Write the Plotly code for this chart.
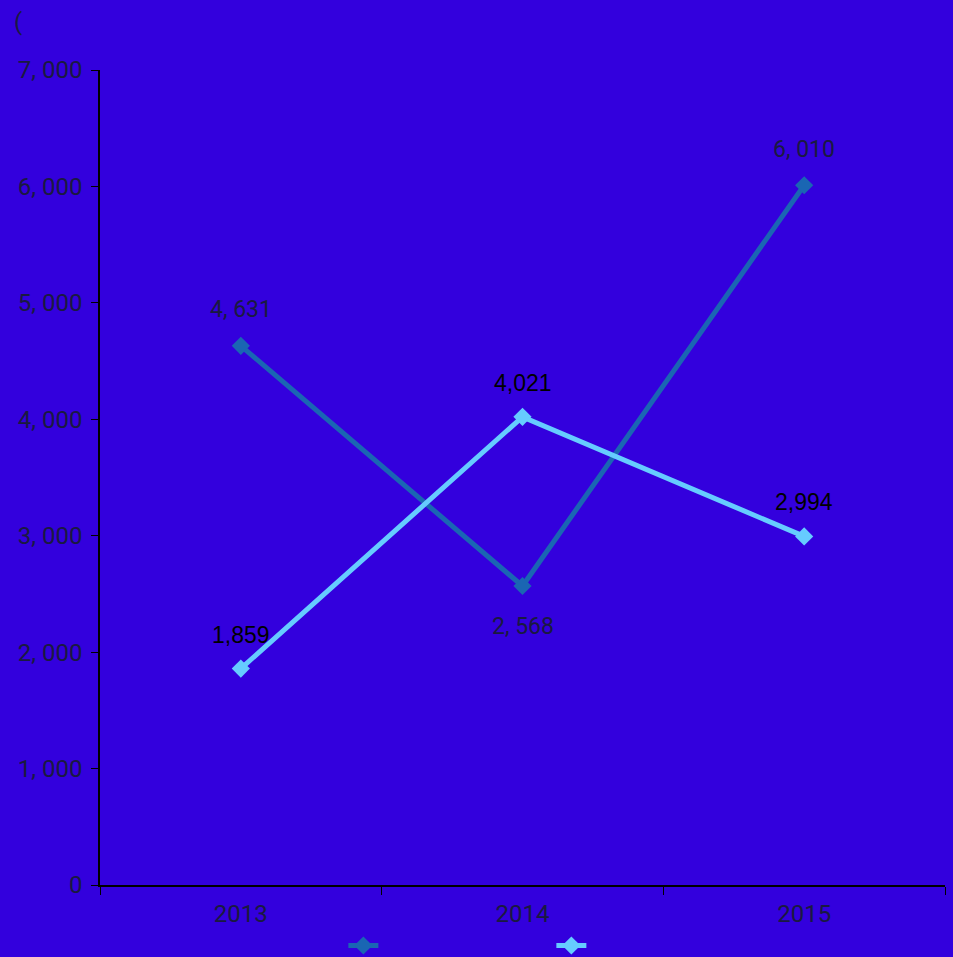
import plotly.graph_objects as go

years = ["2013", "2014", "2015"]
series_a = [4631, 2568, 6010]
series_b = [1859, 4021, 2994]
labels_a = ["4, 631", "2, 568", "6, 010"]
labels_b = ["1,859", "4,021", "2,994"]
y_ticks = [0, 1000, 2000, 3000, 4000, 5000, 6000, 7000]
y_tick_text = ["0", "1, 000", "2, 000", "3, 000", "4, 000", "5, 000", "6, 000", "7, 000"]

bg = "#3300dd"
dark = "#1a1a40"
narrow = "Liberation Sans Narrow, Roboto, sans-serif"

fig = go.Figure()
fig.add_trace(go.Scatter(
    x=years, y=series_a, mode="lines+markers", name="",
    line=dict(color="#1a66b3", width=5),
    marker=dict(symbol="diamond", size=14, color="#1a66b3"),
))
fig.add_trace(go.Scatter(
    x=years, y=series_b, mode="lines+markers", name="",
    line=dict(color="#66ccff", width=5),
    marker=dict(symbol="diamond", size=14, color="#66ccff"),
))

# data labels (category index used as x position)
shifts_a = [36, -40, 36]
for i, (y, t, s) in enumerate(zip(series_a, labels_a, shifts_a)):
    fig.add_annotation(x=i, y=y, text=t, showarrow=False, yshift=s,
                       font=dict(family=narrow, size=23, color=dark))
for i, (y, t) in enumerate(zip(series_b, labels_b)):
    fig.add_annotation(x=i, y=y, text=t, showarrow=False, yshift=34,
                       font=dict(family="Liberation Sans, Arial, sans-serif", size=23, color="black"))

fig.add_annotation(x=0, y=1, xref="paper", yref="paper", xanchor="left", yanchor="top",
                   xshift=-88, yshift=64, text="(", showarrow=False,
                   font=dict(family=narrow, size=24, color=dark))

fig.update_layout(
    width=953, height=957,
    paper_bgcolor=bg, plot_bgcolor=bg,
    margin=dict(l=100, r=8, t=70, b=72, autoexpand=False),
    showlegend=True,
    legend=dict(orientation="h", x=0.288, xanchor="left", yref="container", y=0.012,
                yanchor="middle", entrywidth=163, entrywidthmode="pixels",
                font=dict(size=12, color=dark), bgcolor="rgba(0,0,0,0)"),
    xaxis=dict(type="category", range=[-0.5, 2.5], tickson="boundaries", ticks="outside",
               ticklen=8, tickcolor="black", showline=True, linecolor="black", linewidth=1.5,
               showgrid=False, zeroline=False, ticklabelstandoff=6,
               tickfont=dict(family=narrow, size=24, color=dark)),
    yaxis=dict(range=[0, 7000], tickvals=y_ticks, ticktext=y_tick_text, ticks="outside",
               ticklen=7, tickcolor="black", showline=True, linecolor="black", linewidth=1.5,
               showgrid=False, zeroline=False, ticklabelstandoff=4,
               tickfont=dict(family=narrow, size=24, color=dark)),
)

fig.write_html("out.html", config={"displayModeBar": False},
               post_script="document.body.style.margin='0';document.body.style.background='#3300dd';")
